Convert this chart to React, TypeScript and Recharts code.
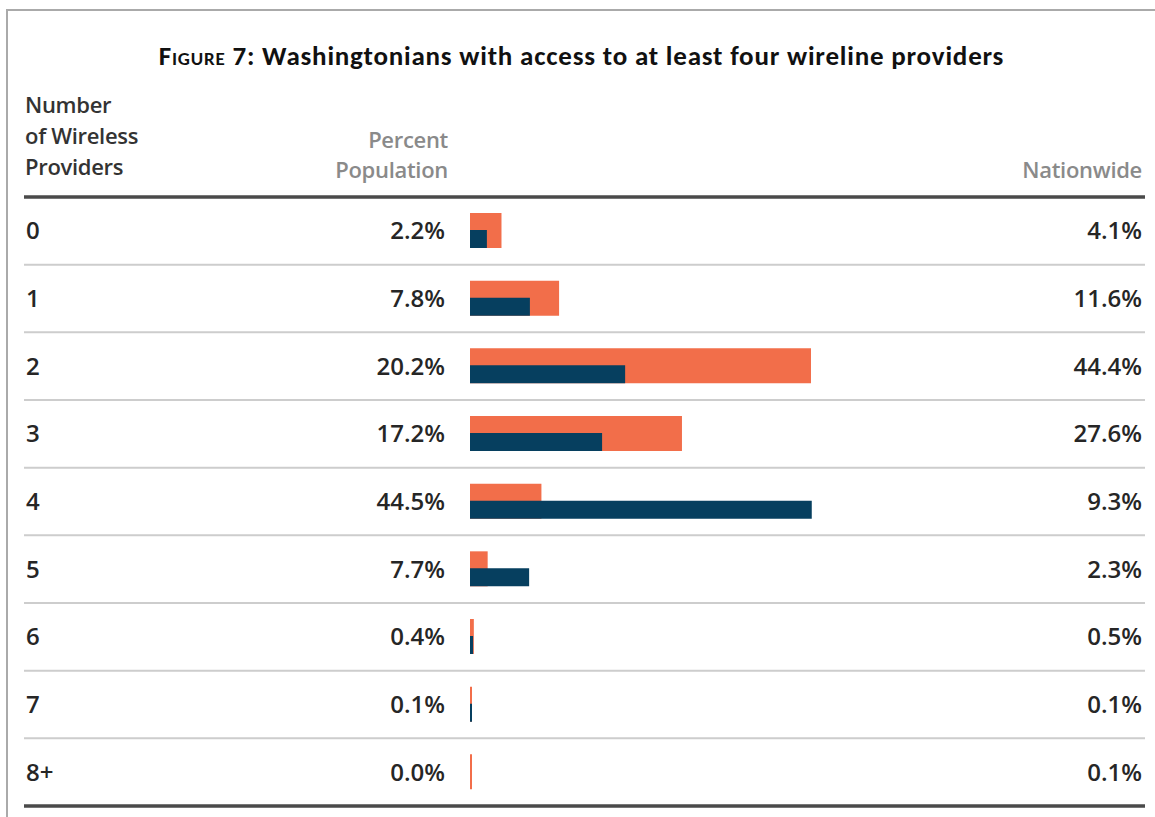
import { Bar, BarChart, XAxis, YAxis } from "recharts";

const providers = ["0", "1", "2", "3", "4", "5", "6", "7", "8+"];
const washington = [2.2, 7.8, 20.2, 17.2, 44.5, 7.7, 0.4, 0.1, 0.0];
const nationwide = [4.1, 11.6, 44.4, 27.6, 9.3, 2.3, 0.5, 0.1, 0.1];

const W = 1155;
const H = 817;
const TOP = 197;
const BOTTOM = 11;
const ROW_H = (H - TOP - BOTTOM) / providers.length;

const ORANGE = "#f26e4a";
const NAVY = "#063f5f";
const ROW_FONT = "'Open Sans', sans-serif";

const data = providers.map((p, i) => ({
  provider: p,
  washington: washington[i],
  nationwide: nationwide[i],
}));

interface TickArgs {
  x?: number;
  y?: number;
  index?: number;
  payload?: { value: string; index?: number };
}

function RowTick(props: TickArgs) {
  const y = props.y ?? 0;
  const i = props.payload?.index ?? props.index ?? 0;
  const textStyle = { fontFamily: ROW_FONT, fontWeight: 600, fontSize: 24, fill: "#262626" };
  const isLast = i === providers.length - 1;
  return (
    <g>
      {i === 0 && (
        <line x1={24} x2={1145} y1={y - ROW_H / 2} y2={y - ROW_H / 2} stroke="#4a4a4a" strokeWidth={3.5} />
      )}
      <text x={26} y={y} dy="0.36em" style={textStyle}>
        {props.payload?.value}
      </text>
      <text x={445} y={y} dy="0.36em" textAnchor="end" style={textStyle}>
        {washington[i].toFixed(1)}%
      </text>
      <text x={1142} y={y} dy="0.36em" textAnchor="end" style={textStyle}>
        {nationwide[i].toFixed(1)}%
      </text>
      <line
        x1={24}
        x2={1145}
        y1={y + ROW_H / 2}
        y2={y + ROW_H / 2}
        stroke={isLast ? "#4a4a4a" : "#cdcdcd"}
        strokeWidth={isLast ? 3.5 : 2}
      />
    </g>
  );
}

const minSize = (value: number) => (value > 0 ? 2 : 0);

const headStyle = {
  position: "absolute" as const,
  fontFamily: ROW_FONT,
  fontWeight: 600,
  fontSize: 22,
  letterSpacing: -0.3,
};

export default function App() {
  return (
    <div style={{ position: "absolute", left: 0, top: 0, width: W, height: H, background: "#fff" }}>
      <div
        style={{
          position: "absolute",
          left: 6,
          top: 9,
          width: W - 6,
          height: H - 9,
          borderTop: "2px solid #aaaaaa",
          borderLeft: "2px solid #aaaaaa",
          boxSizing: "border-box",
        }}
      />
      <div
        style={{
          position: "absolute",
          left: 0,
          width: 1163,
          top: 39,
          textAlign: "center",
          fontFamily: "Carlito, Lato, sans-serif",
          fontWeight: 700,
          fontSize: 27,
          letterSpacing: 0.8,
          color: "#111",
          fontVariant: "small-caps",
        }}
      >
        Figure 7: <span style={{ fontVariant: "normal" }}>Washingtonians with access to at least four wireline providers</span>
      </div>
      <div style={{ ...headStyle, left: 25, top: 89, lineHeight: "31px", color: "#333" }}>
        Number
        <br />
        of Wireless
        <br />
        Providers
      </div>
      <div style={{ ...headStyle, right: W - 448, top: 124, lineHeight: "30px", textAlign: "right", color: "#8a8a8a" }}>
        Percent
        <br />
        Population
      </div>
      <div style={{ ...headStyle, right: W - 1142, top: 154, lineHeight: "30px", color: "#8a8a8a" }}>
        Nationwide
      </div>
      <div style={{ position: "absolute", left: 0, top: 0 }}>
        <BarChart
          width={W}
          height={H}
          data={data}
          layout="vertical"
          barGap={-18}
          barCategoryGap={0}
          margin={{ top: TOP, right: 301, bottom: BOTTOM, left: 0 }}
        >
          <XAxis type="number" domain={[0, 50]} hide />
          <YAxis
            type="category"
            dataKey="provider"
            width={470}
            axisLine={false}
            tickLine={false}
            interval={0}
            tick={<RowTick />}
          />
          <Bar
            dataKey="nationwide"
            fill={ORANGE}
            barSize={35}
            minPointSize={minSize}
            isAnimationActive={false}
          />
          <Bar
            dataKey="washington"
            fill={NAVY}
            barSize={18}
            minPointSize={minSize}
            isAnimationActive={false}
          />
        </BarChart>
      </div>
    </div>
  );
}
